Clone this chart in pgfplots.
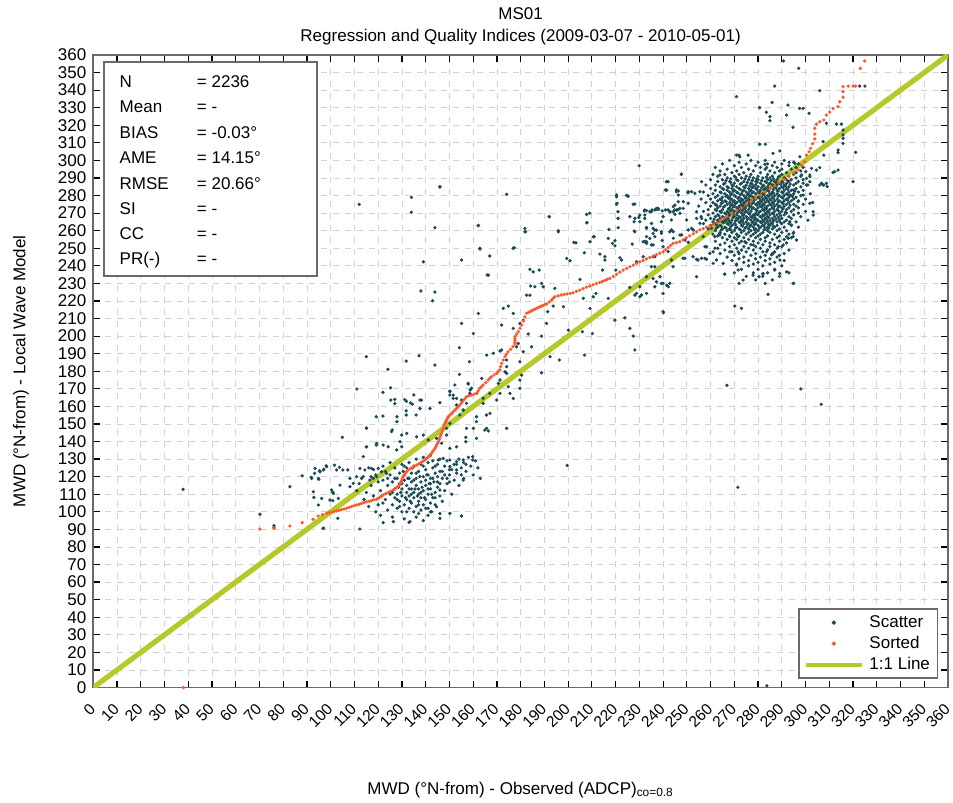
\documentclass[border=0pt]{standalone}
\usepackage{fontspec}
\setmainfont{Liberation Sans}
\usepackage{pgfplots}
\pgfplotsset{compat=1.18}
\definecolor{scat}{RGB}{28,76,86}
\definecolor{sortc}{RGB}{255,88,48}
\definecolor{oneline}{RGB}{181,201,42}
\definecolor{framec}{RGB}{105,105,105}
\newcommand{\lf}{\fontsize{8.5}{10}\selectfont}
\pgfplotsset{
  dotlegend/.style={legend image code/.code={\draw[##1, mark repeat=2, mark phase=2] plot coordinates {(0pt,0pt) (14pt,0pt) (28pt,0pt)};}},
  linelegend/.style={legend image code/.code={\draw[##1, line width=2pt] (0pt,0pt) -- (28pt,0pt);}},
}
\begin{document}
\begin{tikzpicture}
\useasboundingbox (-46.65pt,-57.75pt) rectangle (429.85pt,343.75pt);
\begin{axis}[
  scale only axis, width=427.35pt, height=316.25pt,
  xmin=0, xmax=360, ymin=0, ymax=360,
  xtick={0,10,...,360}, ytick={0,10,...,360},
  tick align=inside, major tick length=3.3pt,
  every tick/.style={black, line width=0.6pt},
  axis line style={framec, line width=0.9pt},
  grid=major, major grid style={dashed, gray!35, line width=0.4pt},
  /pgf/number format/assume math mode=true,
  ticklabel style={font=\lf},
  xticklabel style={font=\fontsize{7.8}{9}\selectfont, yshift=-9.2pt, xshift=-0.3pt, rotate=45, anchor=east, inner sep=0pt},
  every axis title shift=0pt,
  title={MS01\\[1.5pt]Regression and Quality Indices (2009-03-07 - 2010-05-01)},
  title style={align=center, font=\fontsize{8.5}{9.5}\selectfont, inner sep=0pt, anchor=south, yshift=4.6pt},
  xlabel={MWD (°N-from) - Observed (ADCP)\textsubscript{co=0.8}},
  xlabel style={at={(axis description cs:0.5,-0.1684)}, anchor=base, font=\lf},
  ylabel={MWD (°N-from) - Local Wave Model},
  ylabel style={at={(axis description cs:-0.0796,0.5)}, anchor=base, font=\lf},
  legend style={at={(0.9886,0.1252)}, anchor=north east, draw=framec, line width=0.8pt, fill=white, font=\lf,
    inner xsep=2.5pt, inner ysep=1.5pt, nodes={inner sep=1.25pt, text height=6.4pt, text depth=1.6pt},
    cells={anchor=west}, column sep=1.5pt},
]
% Scatter
\addplot[only marks, mark=*, mark size=0.62pt, color=scat, mark options={draw=none, fill=scat}, dotlegend]
coordinates {
(37.8,112.8)(283.7,1)(70.2,98.6)(76.1,92.1)(76.1,91)(82.8,114.3)(88,120.5)(96.8,90.6)(112.3,90.2)
(112,275)(134,279)(134,270.5)(146,284.9)(143.9,261.7)(139,242.3)(155.1,243.3)(138,225.7)(143.9,225.1)(142.9,220.1)(162.1,262.8)(174.1,280.7)(229.9,297)(192,268)(181.8,261.3)(181.8,259.4)(195.8,260)(176.8,250)(167,245.6)(162.8,250)(165.9,234.8)(199.6,126.4)(266.9,172)(271.5,114)(298,169.9)(306.6,161.2)
(290.7,356.6)(297.1,352.4)(287,342.3)(270.9,336.3)(306,339.7)(285.9,333)(280.7,330)(283.5,327.4)(285,324.9)(285,322.6)(292.6,331.5)(297.5,329.6)(299,329.6)(292,325.8)(301.5,326.8)(294.7,318.8)(308.8,321.1)(313,320.7)(315.1,320.7)(322.8,342.3)(325,342.3)(315.8,317.3)(315.8,314.5)(321.1,304.6)(313.7,305.9)(313.7,304.4)(307.7,303)(311.6,293.2)(313.7,294.5)(320,287.9)(306.7,287)(307.7,286)(280.7,309.2)(283.1,309.2)(272,303)(275.8,303)(307.4,310.7)(315.8,312.6)(315.8,309.7)(302.5,295.5)(304.6,294.5)(306,295.9)(301.8,290.7)(308.8,287)(309.1,285.1)(303.2,270.8)(299,287)(300.1,293.6)(289.2,305.4)(293.1,298.9)(295.5,298.3)(282.9,297.8)(283.6,295.9)(298.3,291.7)(300.4,289.8)(301.8,291.7)(293.4,280.3)(294.8,283.2)(296.9,276.5)(299,280.3)(301.8,275.6)(303.2,268.9)(312.3,293.6)(307.4,286)
(146,285)(162.2,263)(162.9,249.5)(166.4,234.7)(177.3,250.3)(162.2,212.9)(155.1,207.2)(160.1,201.5)(154.2,193.4)(158.4,185.4)(154.2,178.2)(143.9,183.5)(137.6,163.6)(146,162.1)(141.8,158.8)(137.6,158.8)(150.2,168.7)(151.6,166.4)(153,164.5)(155.1,163.6)(155.8,157.9)(157.9,173.1)(158.7,169.3)(161.5,167.4)(163.6,175.9)(165.7,189.2)(168.5,190.2)(171.3,191.5)(172,192.1)(174.1,186.4)(174.1,182.6)(173.4,179.7)(174.1,178.8)(170.6,173.1)(171.3,175)(174.8,171.2)(175.5,167.4)(176.9,164.5)(171.3,167.4)(169.9,163.6)(167.1,156)(178.3,193.9)(179,195.8)(181.1,191.1)(179.7,185.4)(180.4,177.8)(184.6,193.9)(179.7,175)(179.7,170.3)(179.7,207.2)(181.1,209.1)(183.2,201.2)(176.9,204.4)(174.8,217.1)(172.7,215.8)(172,206.3)(176.9,212.9)(183.9,223.3)(182.5,223.3)(185.3,236.6)(183.9,238)(187.8,237.6)(184.2,228.5)(186,228.1)(188.8,230)(189.5,228.1)(182.1,259.4)(191.4,213.9)(190.9,207.2)(188.8,200)(192.1,267.9)(195.9,259.4)(194.4,227.2)(193.7,217.1)(198,216.7)(196.3,186.4)(200.1,203.4)(202.4,253.3)(203.3,253.1)(199.4,244.2)(200.8,242.9)(207.8,269.3)(207.8,264.5)(210.6,256.5)(209.2,253.7)(206.8,247.4)(206.9,189.2)(213.4,246.7)(215.5,245.2)(216.9,255.6)(217.2,260.7)(218.7,252.8)(206.4,221.5)(205,232.3)(210.6,222.4)(211.7,224.3)(209.2,215.8)(206,202.5)(210.2,201.5)(216.9,221.5)(219.7,209.1)(214.5,237.6)(215.5,243.3)(220.4,275)(220.4,279.3)(221.1,267)(221.1,261.7)(224.6,280.1)(221.8,244.6)(222.5,243.3)(220.1,237.6)(227.4,275)(227.8,259.8)(230.2,268.9)(232.3,268.9)(234.4,270.8)(237.2,272.7)(238,272.1)(235.1,264.1)(235.8,258.4)(237.2,260.3)(228.8,242.3)(231.6,253.7)(233,252.8)(235.8,245.2)(236.5,245.2)(226,227.7)(230.2,228.1)(228.1,223.3)(230.2,222.4)(235.8,232.8)(237.2,230.9)(238.7,233.8)(241.5,229)(242.2,228.1)(240.1,213.3)(227.4,200)(228.1,192.1)(223.9,210.4)(226,204.4)(244.3,270.8)(245.7,271.7)(246.4,272.1)(245,274.6)(241.5,283.1)(225.3,279.7)(160.1,147.5)(174.1,147.5)(165.7,147.5)(192.4,188.3)(188.8,179.1)(209.1,270)(208,264.5)(211,256.6)(221,270.8)(221,267)(227.8,265.1)(232,271.2)(235.3,271.8)(239.6,271.3)(241,271.8)(229.8,267.6)(236.5,260.4)(233,256.6)(239.3,258.5)(219.7,254.3)(219.7,251.4)(227,252.4)(239.6,254.4)(242.8,259.4)(243.5,266.1)(244.9,271.8)(220.4,280.3)(225,279.7)(220.6,275.6)(228.1,275.2)(247.7,292.3)(242.1,287.9)(245.6,282.2)(250.5,281.6)
(226,268)(228.1,267)(232.3,271.8)(236.5,271.8)(237.9,272.7)(233,261.3)(236.5,256.6)(232.3,253.8)(233,252.8)(240,268)(242.1,271.8)(242.8,270.8)(243.5,260.4)(244.2,259.4)(245.6,283.2)(246.4,280.3)(250.6,282.2)(252,282.2)(253.4,281.3)(255.5,282.2)(248.5,276.5)(250.6,275.6)(248.5,272.7)(247.1,269.9)(240,250.9)(242.1,248.1)(243.5,243.3)(234.4,255.6)(235.8,251.9)(247.1,257.5)(250.6,260.4)(252.7,260.4)(254.1,267)(255.5,264.2)(249.2,244.3)(254.1,243.7)(256.2,244.3)(258.3,243.7)(254.1,233.8)(244.2,239.5)(235.1,239.5)(236.5,239.5)(231.6,245.2)(233,233.8)(236.5,228.1)(239.3,230)(240,224.3)(242.8,230)(240,230)(228.8,224.3)(230.9,223.4)(233,224.3)(240,213.9)(257.6,250.9)(261.8,250)(259.7,247.1)(261.8,256.6)(263.9,258.5)(265.9,235.2)(270.2,217.1)(273,215.8)(284.2,223.8)(277.9,234.7)(282.1,235.7)(292,236.6)(294.8,230)(262.5,243.3)(265.3,241.4)(270.9,240.4)(271.6,237.6)(289.2,243.3)(286.3,247.1)(292,256.6)(294.8,258.5)(300.4,286)(301.8,287.9)(266,235.3)(273.7,231.9)(280.4,233.8)(282.1,235.3)(287,237.6)(289.1,235.7)(261.1,241.4)(254.7,243.3)(257.6,244.3)(248.4,244.3)(252.6,245.2)(263.9,291.7)(256.2,287.9)(247.7,292)(241.4,287.9)(272.3,302)(286.3,304)(297.6,302.1)(270.9,303)(241,283.2)(246.4,282.6)(244.3,273.7)(246.4,276.5)(247.1,272.7)(242.9,270.8)(245,269.3)(237.2,272.3)(233,271.4)(235.1,270.8)(232.3,267)(233,261.9)(230.2,265.1)(228.1,259.4)(239.3,265.1)(239.3,259.4)(235.8,261.3)(233,253.8)(235.1,251.9)(243.6,260.4)(244.3,255.7)(247.8,257.6)(249.9,266.1)(252,261.3)(254.1,270.8)(256.2,267)(249.2,254.7)(250.6,253.4)(256.9,256.6)(260.4,261.3)(258.3,250.9)(261.1,248)(263.9,257.6)(268.1,256.6)(271.6,256.6)(274.4,253.8)(278,251.9)(271.6,248)(268.1,248)(283.6,248)(285.7,246.2)(288.5,250.9)(290.6,251.9)(293.4,265.1)(294.1,263.2)(292.7,255.7)(294.8,256.6)(296.2,254.7)(306,286)
(268,300)(277,300)(283,300)(291,300)(272,299)(280,299)(287,299)(295,299)(265,298)(275,298)(284,298)(290,298)(297,298)(270,297)(279,297)(286,297)(293,297)
(262,296)(273,296)(281,296)(288,296)(296,296)(299,296)(267,295)(276,295)(283,295)(290,295)(294,295)(264,294)(271,294)(278,294)(285,294)(289,294)(298,294)
(269,293)(274,293)(281,293)(287,293)(292,293)(296,293)(261,292)(266,292)(272,292)(277,292)(284,292)(290,292)(295,292)
(263,291)(270,291)(275,291)(280,291)(286,291)(289,291)(293,291)(298,291)(267,290)(273,290)(278,290)(282,290)(285,290)(291,290)(296,290)
(260,289)(265,289)(271,289)(276,289)(280,289)(284,289)(288,289)(294,289)(299,289)(263,288)(268,288)(274,288)(279,288)(283,288)(287,288)(290,288)(293,288)(297,288)
(266,287)(270,287)(273,287)(277,287)(281,287)(285,287)(289,287)(292,287)(296,287)(258,286)(262,286)(269,286)(275,286)(279,286)(282,286)(286,286)(288,286)(291,286)(295,286)(301,286)
(264,285)(267,285)(271,285)(274,285)(278,285)(280,285)(284,285)(287,285)(290,285)(293,285)(298,285)(260,284)(265,284)(269,284)(272,284)(276,284)(279,284)(283,284)(285,284)(289,284)(292,284)(296,284)
(262,283)(267,283)(270,283)(274,283)(277,283)(281,283)(284,283)(288,283)(291,283)(294,283)(299,283)(257,282)(264,282)(268,282)(271,282)(275,282)(278,282)(280,282)(283,282)(286,282)(290,282)(293,282)(297,282)
(261,281)(266,281)(269,281)(273,281)(276,281)(279,281)(282,281)(285,281)(288,281)(292,281)(295,281)(302,281)(259,280)(263,280)(267,280)(270,280)(274,280)(277,280)(281,280)(284,280)(287,280)(289,280)(291,280)(294,280)(298,280)
(262,279)(265,279)(268,279)(272,279)(275,279)(278,279)(280,279)(283,279)(286,279)(290,279)(293,279)(296,279)(256,278)(260,278)(264,278)(269,278)(273,278)(276,278)(279,278)(282,278)(285,278)(288,278)(292,278)(295,278)(300,278)
(263,277)(266,277)(270,277)(272,277)(275,277)(277,277)(281,277)(284,277)(287,277)(289,277)(291,277)(294,277)(297,277)(258,276)(261,276)(265,276)(268,276)(271,276)(274,276)(278,276)(280,276)(283,276)(286,276)(290,276)(293,276)(303,276)
(262,275)(267,275)(269,275)(273,275)(276,275)(279,275)(282,275)(285,275)(288,275)(292,275)(295,275)(299,275)(255,274)(260,274)(264,274)(266,274)(270,274)(272,274)(275,274)(277,274)(281,274)(284,274)(287,274)(289,274)(291,274)(296,274)
(263,273)(268,273)(271,273)(274,273)(278,273)(280,273)(283,273)(286,273)(290,273)(293,273)(297,273)(259,272)(262,272)(265,272)(269,272)(273,272)(276,272)(279,272)(282,272)(285,272)(288,272)(292,272)(295,272)
(257,271)(264,271)(267,271)(270,271)(272,271)(275,271)(277,271)(281,271)(284,271)(287,271)(290,271)(294,271)(300,271)(261,270)(266,270)(269,270)(273,270)(276,270)(279,270)(283,270)(286,270)(289,270)(292,270)(297,270)
(259,269)(263,269)(268,269)(271,269)(274,269)(278,269)(280,269)(282,269)(285,269)(288,269)(291,269)(295,269)(256,268)(262,268)(265,268)(270,268)(272,268)(275,268)(277,268)(281,268)(284,268)(287,268)(293,268)(298,268)
(260,267)(264,267)(267,267)(271,267)(274,267)(276,267)(279,267)(283,267)(286,267)(290,267)(294,267)(258,266)(263,266)(266,266)(269,266)(273,266)(277,266)(280,266)(282,266)(285,266)(289,266)(292,266)(301,266)
(261,265)(265,265)(268,265)(272,265)(275,265)(278,265)(281,265)(284,265)(288,265)(291,265)(296,265)(257,264)(262,264)(267,264)(270,264)(274,264)(276,264)(279,264)(283,264)(286,264)(290,264)(293,264)
(260,263)(264,263)(269,263)(273,263)(277,263)(280,263)(282,263)(285,263)(288,263)(294,263)(263,262)(266,262)(271,262)(275,262)(278,262)(281,262)(284,262)(287,262)(291,262)(297,262)
(259,261)(265,261)(268,261)(272,261)(276,261)(279,261)(283,261)(286,261)(289,261)(262,260)(267,260)(270,260)(274,260)(277,260)(280,260)(284,260)(288,260)(292,260)
(264,259)(269,259)(273,259)(276,259)(279,259)(282,259)(285,259)(290,259)(295,259)(261,258)(266,258)(271,258)(275,258)(278,258)(281,258)(287,258)(293,258)
(263,257)(268,257)(272,257)(277,257)(280,257)(284,257)(289,257)(265,256)(270,256)(274,256)(279,256)(283,256)(288,256)(294,256)(267,255)(271,255)(276,255)(281,255)(286,255)(291,255)
(262,254)(269,254)(273,254)(278,254)(283,254)(289,254)(266,253)(272,253)(275,253)(280,253)(285,253)(292,253)(264,252)(270,252)(277,252)(282,252)(287,252)(268,251)(274,251)(279,251)(285,251)(290,251)
(263,250)(271,250)(276,250)(281,250)(288,250)(266,249)(273,249)(278,249)(284,249)(293,249)(269,248)(275,248)(282,248)(287,248)(264,247)(272,247)(279,247)(286,247)(291,247)
(270,246)(277,246)(283,246)(289,246)(267,245)(274,245)(281,245)(288,245)(272,244)(279,244)(285,244)(269,243)(276,243)(283,243)(291,243)(274,242)(280,242)(287,242)(271,241)(278,241)(285,241)(276,240)(282,240)(290,240)
(273,238)(280,238)(287,238)(270,236)(278,236)(284,236)(293,236)(275,234)(282,234)(289,234)(279,232)(286,232)(272,230)(283,230)(295,230)
(270.5,290.5)(276.5,290.5)(283.5,290.5)(288.5,290.5)(268.5,289.5)(274.5,289.5)(279.5,289.5)(286.5,289.5)(291.5,289.5)(266.5,288.5)(271.5,288.5)(277.5,288.5)(281.5,288.5)(285.5,288.5)(292.5,288.5)
(268.5,287.5)(275.5,287.5)(279.5,287.5)(283.5,287.5)(287.5,287.5)(290.5,287.5)(265.5,286.5)(272.5,286.5)(277.5,286.5)(284.5,286.5)(289.5,286.5)(293.5,286.5)(269.5,285.5)(276.5,285.5)(282.5,285.5)(286.5,285.5)(291.5,285.5)
(267.5,284.5)(274.5,284.5)(277.5,284.5)(281.5,284.5)(287.5,284.5)(290.5,284.5)(265.5,283.5)(272.5,283.5)(279.5,283.5)(282.5,283.5)(286.5,283.5)(292.5,283.5)(269.5,282.5)(273.5,282.5)(276.5,282.5)(284.5,282.5)(288.5,282.5)(295.5,282.5)
(264.5,281.5)(271.5,281.5)(277.5,281.5)(280.5,281.5)(286.5,281.5)(290.5,281.5)(268.5,280.5)(272.5,280.5)(275.5,280.5)(282.5,280.5)(285.5,280.5)(292.5,280.5)(266.5,279.5)(270.5,279.5)(276.5,279.5)(281.5,279.5)(284.5,279.5)(288.5,279.5)(294.5,279.5)
(267.5,278.5)(271.5,278.5)(274.5,278.5)(280.5,278.5)(283.5,278.5)(286.5,278.5)(290.5,278.5)(264.5,277.5)(268.5,277.5)(273.5,277.5)(278.5,277.5)(282.5,277.5)(285.5,277.5)(292.5,277.5)
(266.5,276.5)(269.5,276.5)(272.5,276.5)(276.5,276.5)(281.5,276.5)(284.5,276.5)(288.5,276.5)(264.5,275.5)(270.5,275.5)(274.5,275.5)(277.5,275.5)(280.5,275.5)(286.5,275.5)(290.5,275.5)
(262.5,274.5)(268.5,274.5)(273.5,274.5)(279.5,274.5)(282.5,274.5)(285.5,274.5)(293.5,274.5)(265.5,273.5)(269.5,273.5)(272.5,273.5)(276.5,273.5)(281.5,273.5)(288.5,273.5)
(267.5,272.5)(271.5,272.5)(274.5,272.5)(277.5,272.5)(283.5,272.5)(286.5,272.5)(290.5,272.5)(262.5,271.5)(268.5,271.5)(273.5,271.5)(279.5,271.5)(282.5,271.5)(288.5,271.5)
(264.5,270.5)(267.5,270.5)(271.5,270.5)(274.5,270.5)(280.5,270.5)(284.5,270.5)(291.5,270.5)(266.5,269.5)(269.5,269.5)(276.5,269.5)(279.5,269.5)(283.5,269.5)(286.5,269.5)
(263.5,268.5)(267.5,268.5)(273.5,268.5)(278.5,268.5)(282.5,268.5)(289.5,268.5)(265.5,267.5)(269.5,267.5)(272.5,267.5)(277.5,267.5)(281.5,267.5)(284.5,267.5)(288.5,267.5)
(261.5,266.5)(267.5,266.5)(271.5,266.5)(275.5,266.5)(278.5,266.5)(283.5,266.5)(287.5,266.5)(263.5,265.5)(266.5,265.5)(270.5,265.5)(273.5,265.5)(279.5,265.5)(282.5,265.5)(286.5,265.5)
(265.5,264.5)(268.5,264.5)(272.5,264.5)(277.5,264.5)(281.5,264.5)(285.5,264.5)(289.5,264.5)(262.5,263.5)(267.5,263.5)(270.5,263.5)(275.5,263.5)(278.5,263.5)(284.5,263.5)
(264.5,262.5)(268.5,262.5)(273.5,262.5)(276.5,262.5)(282.5,262.5)(286.5,262.5)(262.5,261.5)(266.5,261.5)(270.5,261.5)(274.5,261.5)(280.5,261.5)(284.5,261.5)(264.5,260.5)(268.5,260.5)(272.5,260.5)(278.5,260.5)(282.5,260.5)
(120,104)(121,112)(122,118)(123,107)(124,101)(124,115)(125,110)(125,121)(126,104)(126,117)(127,108)(127,113)(127,125)(128,102)(128,119)(128,110)(129,106)(129,116)(129,122)(130,100)(130,109)(130,113)(130,127)
(131,104)(131,118)(131,121)(132,107)(132,111)(132,115)(132,125)(133,102)(133,109)(133,119)(133,128)(134,105)(134,113)(134,117)(134,122)(135,100)(135,108)(135,111)(135,126)(136,103)(136,115)(136,119)(136,130)
(137,106)(137,110)(137,113)(137,123)(138,101)(138,108)(138,117)(138,127)(139,104)(139,112)(139,120)(139,131)(140,107)(140,115)(140,118)(140,124)(141,102)(141,110)(141,121)(141,128)(142,105)(142,113)(142,116)(142,132)
(143,108)(143,119)(143,125)(143,129)(144,104)(144,111)(144,122)(145,114)(145,117)(145,127)(146,109)(146,123)(146,130)(147,106)(147,119)(148,112)(148,126)(149,116)(149,129)(150,121)(150,124)(151,110)(152,118)(152,127)
(153,122)(154,115)(154,130)(155,125)(156,119)(156,128)(157,123)(158,131)(159,126)(160,121)(161,129)(162,125)(163,119)(118,109)(117,115)(116,103)(119,121)(115,111)(114,107)(113,119)(112,116)(111,112)(118,124)(122,126)(125,128)
(121,98)(126,97)(131,96)(136,97)(141,98)(146,99)(139,95)(133,94)
(128.5,114)(129.5,111)(130.5,123)(131.5,108)(132.5,119)(133.5,106)(134.5,125)(135.5,113)(136.5,109)(137.5,120)(138.5,114)(139.5,108)(140.5,121)(141.5,116)(142.5,110)(143.5,117)(131,126)(135,118)(139,126)(127,119)(133,113)(137,104)(141,113)(129,103)(145,120)(136,122)(134,110)(138,111)(142,119)(144,126)(126,111)(130,116)(132,100)(140,102)(147,123)(149,119)(151,124)(153,127)(155,121)(157,127)(150,117)(148,121)(146,116)(144,108)(142,100)(137,99)(128,107)(124,119)(122,105)(120,117)(117,120)(119,100)(116,125)(123,123)
(115,188.3)(124.1,181.1)(131.8,185.8)(137.2,188.8)(111,169.9)(122,168)(125.2,170.6)(135,166.5)(138.2,163.6)(125.3,163.6)(127,164)(127,161.6)(131.2,163.8)(131.9,162.9)(133.6,162)(134.4,161.2)(131.8,157.5)(115,147.7)(119.2,154.1)(122,154.5)(127.9,154.1)(127.9,151.3)(131.8,155.1)(136,155.1)(125.9,146.6)(104.9,142.4)(119.2,138)(115,137)
(92.9,108.2)(91.8,119.6)(93.2,121.9)(95.3,123.4)(97.1,124.2)(98.1,126.2)(95,118.5)(101.6,126.6)(103.7,125.3)(105.1,123.8)(107.2,123.8)(100.9,111.1)(100.9,106.3)(103,96.3)(97,90.6)
(150.2,168.4)(150.2,166.5)(151.6,164.6)(152.3,172.2)(157.9,172.7)(159.3,170.3)(158.6,167.4)(164.2,164.6)(167,167.4)(164.2,161.7)(161.4,154.1)(161.4,151.3)(164.9,146.5)(166.4,146)(157.2,147.5)(156.9,142.4)(156.9,139.9)(161.4,141.8)(165.6,155.1)(153,160.8)(157.2,161.7)(155.8,157.9)(154.4,155.1)(150.2,150.3)(148.8,147.5)(148.8,143.7)(153,137)(150.2,136.1)(146.7,139)(144.6,141.8)(141.1,140.9)(139,143.7)(136.2,142.7)(132,144.6)(129.9,143.7)(129.2,139.9)(129.9,137)(127.8,135.2)(125.6,145.6)(124.2,137)(122.1,138)(119.3,139)(115.1,147.5)(115.1,137)(113.7,131.4)(112.3,124.7)(114.4,123.8)(117.2,124.7)(120,124.7)(121.4,122.8)(123.5,121.9)(119.3,120)(117.9,119)(116.5,118.1)(113.7,120)(110.9,120)(108.1,119)(109.5,116.2)(108.1,114.3)(103.9,115.2)(101.1,110.5)(98.3,125.7)(102.5,123.8)(100.4,112.4)(103.2,107.6)(96.2,107.6)(92.7,111.4)(94.8,103.9)(99.7,106.7)(92,119)(94.8,119)(95.5,122.8)(93.4,124.7)(96.9,123.8)
(145.3,129.5)(147.4,130.4)(150.2,129.5)(153,128.5)(155.8,129.5)(159.8,131.4)(159.8,129.5)(150.2,125.7)(153,123.8)(155.8,118.1)(146,112.4)(150.2,99.1)(146,96.3)(155.1,97.6)(144.6,102.9)(142.5,100)(133.4,94.4)(126.4,94.4)(122.1,93.8)
};
\addlegendentry{Scatter}
% Sorted
\addplot[only marks, mark=*, mark size=0.62pt, color=sortc, mark options={draw=none, fill=sortc}, dotlegend]
coordinates {
(38,0)(70.2,90.2)(76.1,90.6)(82.8,91.9)(88,93.8)(92.6,95.7)(94.7,97.6)(96.5,98.3)(98.3,99.1)(99.4,99.5)(100.5,99.8)(101.5,100.2)(102.5,100.5)(103.5,100.9)(104.5,101.2)(105.6,101.6)(106.7,102)(107.7,102.5)(108.8,103)(109.8,103.4)(110.9,103.9)(112,104.3)(113,104.8)(114,105.2)(115.1,105.7)(116.2,106)(117.2,106.4)(118.2,106.8)(119.3,107.1)(120,107.7)(120.7,108.3)(121.4,109)(122.1,109.6)(123.2,110.3)(124.2,111)(125.2,111.7)(126.3,112.4)(127,113.1)(127.7,113.8)(128.4,114.5)(129.1,115.3)(129.5,116.4)(129.8,117.5)(130.1,118.8)(130.5,120)(131,121)(131.5,122)(132,122.9)(132.6,123.8)(133.5,124.5)(134.4,125.2)(135.3,125.9)(136.2,126.6)(137.1,127.3)(138,128)(138.8,128.7)(139.7,129.5)(140.3,130.2)(140.8,130.9)(141.3,131.6)(141.8,132.3)(142.4,133.2)(142.9,134.2)(143.4,135.1)(143.9,136.1)(144.3,137)(144.6,138)(145,138.9)(145.3,139.9)(145.7,141.1)(146,142.3)(146.3,143.5)(146.7,144.7)(147,146.1)(147.4,147.5)(147.7,149)(148.1,150.4)(148.5,151.3)(148.8,152.2)(149.1,153.1)(149.5,154.1)(150,154.8)(150.6,155.5)(151.1,156.2)(151.6,157)(152.3,157.9)(153,158.9)(153.7,159.8)(154.4,160.8)(155.1,162)(155.8,163.1)(156.5,164.3)(157.2,165.5)(158.2,166)(159.3,166.4)(160.3,166.9)(161.4,167.4)(162.1,168.8)(162.8,170.3)(163.5,171.2)(164.2,172.2)(165.3,173.6)(166.3,175)(167,176)(167.7,176.9)(168.8,177.9)(169.9,178.8)(170.5,179.7)(171.2,180.7)(171.6,182.6)(172,184.5)(172.7,186.4)(173.4,188.3)(174,189.7)(174.7,191.1)(175.8,192.5)(176.8,194)(177.6,195.5)(177.6,196.5)(177.6,197.6)(177.6,198.6)(177.6,199.7)(178.3,201.1)(179,202.5)(179.7,204.4)(180.4,206.3)(181.1,208.6)(181.8,211)(182.5,213)(183.2,213.4)(183.9,213.9)(184.6,214.4)(185.3,214.9)(186,215.3)(186.7,215.8)(187.4,216.2)(188.1,216.7)(188.8,217.1)(189.5,217.5)(190.2,217.9)(190.9,218.3)(192,219.4)(193,220.5)(193.7,221.5)(194.4,222.4)(195.8,222.9)(197.2,223.4)(198.4,223.7)(199.6,224)(200.9,224.3)(202.1,224.7)(203.5,225.5)(204.9,226.2)(206.3,227)(207.7,227.8)(209.1,228.5)(210.5,229.2)(211.9,229.9)(213.3,230.6)(214.4,231.1)(215.5,231.7)(216.5,232.3)(217.6,232.9)(219,234)(220.4,235.2)(221.8,236.4)(223.2,237.6)(224.6,238.5)(226,239.5)(227.4,240.4)(228.8,241.4)(230.2,242.3)(231.6,243.1)(233,244)(234.4,244.8)(235.8,245.6)(237.2,246.4)(238.6,247.2)(240,248)(241,249.2)(242.1,250.4)(243.2,251.6)(244.2,252.8)(245.6,253.2)(247,253.7)(248.4,254.8)(249.8,256)(251.2,257.1)(252.7,258.2)(254.1,259.3)(255.5,260.5)(256.9,261.2)(258.3,262)(259.7,262.7)(261.1,263.5)(262.5,264.6)(264,265.8)(265.4,266.9)(266.8,268.1)(269,269.8)(271,271.5)(273,273)(275,275)(277,276.6)(279,278.5)(281,280.2)(283,282)(285,283.8)(287,285.6)(289,287.5)(291,289.2)(293,291)(295,292.8)(297,294.6)(298.3,297.4)(299.7,299.3)(300.4,303)(301.5,304.9)(302.1,306.9)(303,309.5)(303.9,312.2)(303.9,315)(303.9,318.3)(304.6,320.7)(306,322)(307.7,323)(308.8,325.8)(310.2,327.5)(311.6,329.6)(313.7,330.6)(314.4,333.4)(315.8,336)(315.8,339.1)(315.8,342)(318,342.3)(320,342.3)(321.1,342.3)(323.1,352.4)(324.9,356.6)
};
\addlegendentry{Sorted}
% 1:1 line
\addplot[oneline, line width=2.6pt, linelegend]
coordinates {(0,0)(360,360)};
\addlegendentry{1:1 Line}
% statistics box
\draw[framec, line width=0.8pt, fill=white] (axis cs:4.5,234.2) rectangle (axis cs:94.2,356);
\node[anchor=base west, font=\lf, inner sep=0pt] at (axis cs:10.95,341.5) {N};
\node[anchor=base west, font=\lf, inner sep=0pt] at (axis cs:43.5,341.5) {= 2236};
\node[anchor=base west, font=\lf, inner sep=0pt] at (axis cs:10.95,327.3) {Mean};
\node[anchor=base west, font=\lf, inner sep=0pt] at (axis cs:43.5,327.3) {= -};
\node[anchor=base west, font=\lf, inner sep=0pt] at (axis cs:10.95,312.5) {BIAS};
\node[anchor=base west, font=\lf, inner sep=0pt] at (axis cs:43.5,312.5) {= -0.03°};
\node[anchor=base west, font=\lf, inner sep=0pt] at (axis cs:10.95,298.2) {AME};
\node[anchor=base west, font=\lf, inner sep=0pt] at (axis cs:43.5,298.2) {= 14.15°};
\node[anchor=base west, font=\lf, inner sep=0pt] at (axis cs:10.95,283.4) {RMSE};
\node[anchor=base west, font=\lf, inner sep=0pt] at (axis cs:43.5,283.4) {= 20.66°};
\node[anchor=base west, font=\lf, inner sep=0pt] at (axis cs:10.95,269.2) {SI};
\node[anchor=base west, font=\lf, inner sep=0pt] at (axis cs:43.5,269.2) {= -};
\node[anchor=base west, font=\lf, inner sep=0pt] at (axis cs:10.95,255.0) {CC};
\node[anchor=base west, font=\lf, inner sep=0pt] at (axis cs:43.5,255.0) {= -};
\node[anchor=base west, font=\lf, inner sep=0pt] at (axis cs:10.95,240.8) {PR(-)};
\node[anchor=base west, font=\lf, inner sep=0pt] at (axis cs:43.5,240.8) {= -};
\end{axis}
\end{tikzpicture}
\end{document}
